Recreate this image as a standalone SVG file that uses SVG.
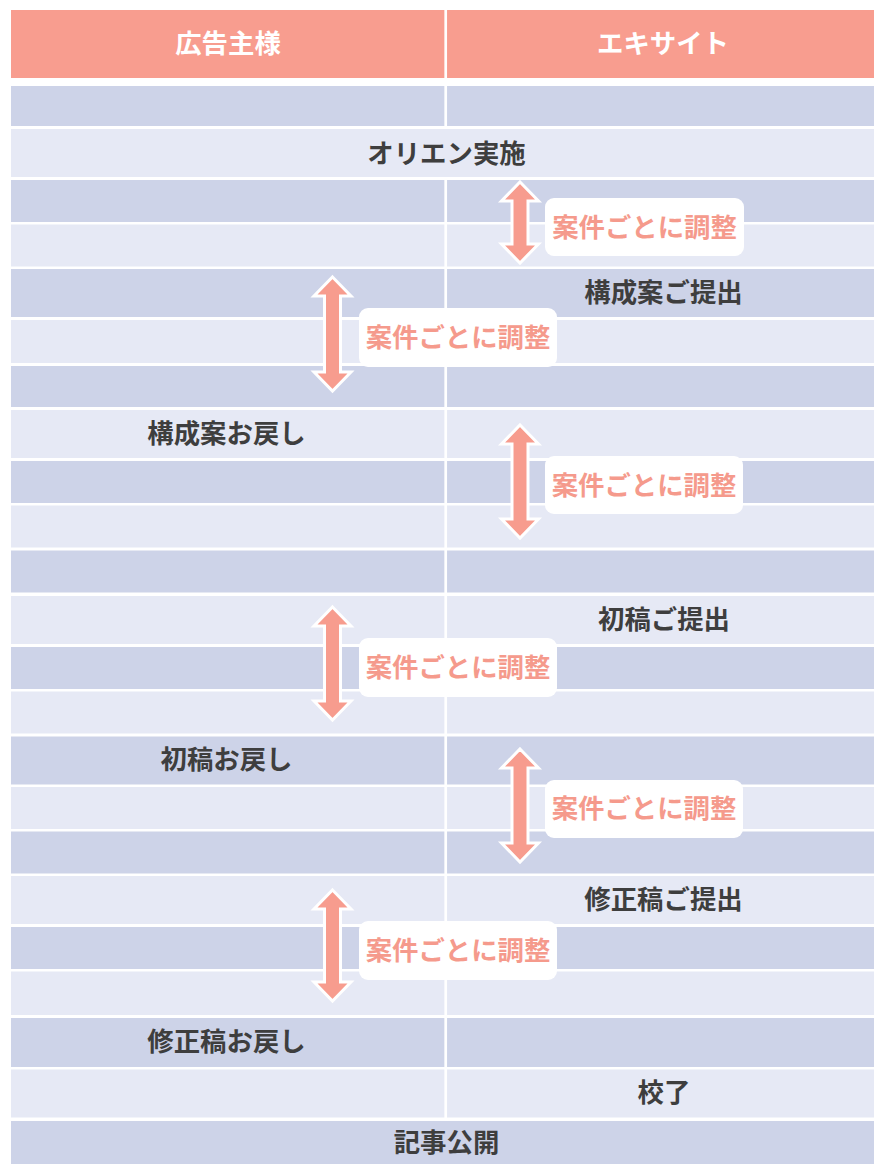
<svg xmlns="http://www.w3.org/2000/svg" width="874" height="1164" viewBox="0 0 874 1164">
<style>
.hd{fill:#F89D8F}
.dk{fill:#CDD3E8}
.lt{fill:#E6E9F5}
.div{stroke:#FFFFFF;stroke-width:2.7}
.t{font-family:"Noto Sans CJK JP","Noto Sans",sans-serif;font-weight:bold;font-size:26.4px;text-anchor:middle;dominant-baseline:central;fill:#3E3E3E}
.th{fill:#FFFFFF}
.tl{fill:#F59A8C}
.box{fill:#FFFFFF}
.arr{fill:#F79C8E;stroke:#FFFFFF;stroke-width:3;stroke-linejoin:miter}
</style>
<rect width="874" height="1164" fill="#FFFFFF"/>
<g id="table">
<rect class="hd" x="11" y="10" width="863" height="68"/>
<rect class="dk" x="11" y="86" width="863" height="40"/>
<rect class="lt" x="11" y="129" width="863" height="48"/>
<rect class="dk" x="11" y="180" width="863" height="42"/>
<rect class="lt" x="11" y="224.5" width="863" height="42"/>
<rect class="dk" x="11" y="269" width="863" height="48"/>
<rect class="lt" x="11" y="320" width="863" height="43"/>
<rect class="dk" x="11" y="366" width="863" height="41"/>
<rect class="lt" x="11" y="410" width="863" height="48"/>
<rect class="dk" x="11" y="461" width="863" height="42"/>
<rect class="lt" x="11" y="505.5" width="863" height="42"/>
<rect class="dk" x="11" y="550.5" width="863" height="42"/>
<rect class="lt" x="11" y="596" width="863" height="48"/>
<rect class="dk" x="11" y="647" width="863" height="42"/>
<rect class="lt" x="11" y="691.5" width="863" height="42"/>
<rect class="dk" x="11" y="736.5" width="863" height="48"/>
<rect class="lt" x="11" y="787" width="863" height="42"/>
<rect class="dk" x="11" y="831.5" width="863" height="42"/>
<rect class="lt" x="11" y="876" width="863" height="48"/>
<rect class="dk" x="11" y="927" width="863" height="42"/>
<rect class="lt" x="11" y="971.5" width="863" height="43.5"/>
<rect class="dk" x="11" y="1018" width="863" height="49"/>
<rect class="lt" x="11" y="1069.5" width="863" height="48"/>
<rect class="dk" x="11" y="1121" width="863" height="43"/>
<line class="div" x1="445.7" y1="10" x2="445.7" y2="126"/>
<line class="div" x1="445.7" y1="180" x2="445.7" y2="1118"/>
</g>
<g id="header-advertiser"><text class="t th" x="228" y="41.5">広告主様</text></g>
<g id="header-excite"><text class="t th" x="663" y="41.5">エキサイト</text></g>
<g id="orien"><text class="t" x="446.5" y="151">オリエン実施</text></g>
<g id="kousei-teishutsu"><text class="t" x="663.5" y="290.5">構成案ご提出</text></g>
<g id="kousei-modoshi"><text class="t" x="226.5" y="431.5">構成案お戻し</text></g>
<g id="shokou-teishutsu"><text class="t" x="664" y="617.5">初稿ご提出</text></g>
<g id="shokou-modoshi"><text class="t" x="226.5" y="757.5">初稿お戻し</text></g>
<g id="shusei-teishutsu"><text class="t" x="663.5" y="897.5">修正稿ご提出</text></g>
<g id="shusei-modoshi"><text class="t" x="226.5" y="1039.5">修正稿お戻し</text></g>
<g id="kouryou"><text class="t" x="664" y="1090.5">校了</text></g>
<g id="kiji-koukai"><text class="t" x="446.5" y="1140">記事公開</text></g>
<g id="connectors">
<polygon class="arr" points="520,182 538.5,201 528,201 528,244 538.5,244 520,263 501.5,244 512,244 512,201 501.5,201"/>
<polygon class="arr" points="332.5,277 351,296 340.5,296 340.5,372 351,372 332.5,391 314,372 324.5,372 324.5,296 314,296"/>
<polygon class="arr" points="520,425 538.5,444 528,444 528,519 538.5,519 520,538 501.5,519 512,519 512,444 501.5,444"/>
<polygon class="arr" points="332.5,607 351,626 340.5,626 340.5,701 351,701 332.5,720 314,701 324.5,701 324.5,626 314,626"/>
<polygon class="arr" points="520,749 538.5,768 528,768 528,843 538.5,843 520,862 501.5,843 512,843 512,768 501.5,768"/>
<polygon class="arr" points="332.5,890 351,909 340.5,909 340.5,982 351,982 332.5,1001 314,982 324.5,982 324.5,909 314,909"/>
</g>
<g id="label1"><rect class="box" x="545" y="198" width="199" height="58" rx="9"/><text class="t tl" x="644.5" y="225">案件ごとに調整</text></g>
<g id="label2"><rect class="box" x="359" y="308" width="198" height="59" rx="9"/><text class="t tl" x="458" y="335">案件ごとに調整</text></g>
<g id="label3"><rect class="box" x="545" y="456" width="198" height="58" rx="9"/><text class="t tl" x="644" y="483">案件ごとに調整</text></g>
<g id="label4"><rect class="box" x="359" y="638" width="198" height="59" rx="9"/><text class="t tl" x="458" y="665">案件ごとに調整</text></g>
<g id="label5"><rect class="box" x="545" y="780" width="198" height="58" rx="9"/><text class="t tl" x="644" y="806.5">案件ごとに調整</text></g>
<g id="label6"><rect class="box" x="359" y="921" width="198" height="59" rx="9"/><text class="t tl" x="458" y="948">案件ごとに調整</text></g>
</svg>
